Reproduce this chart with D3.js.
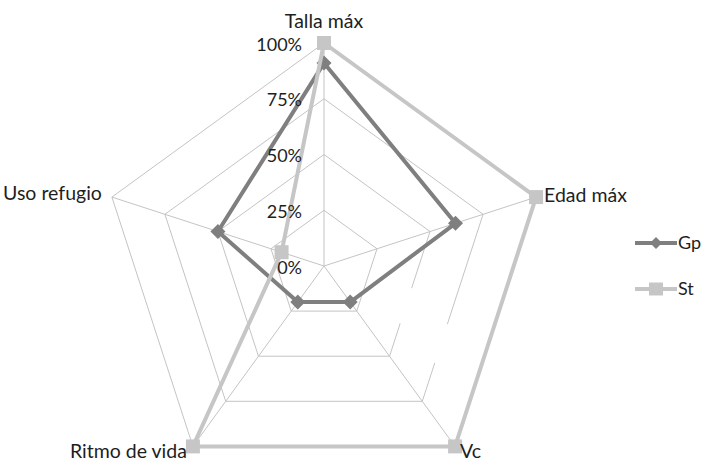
<!DOCTYPE html>
<html>
<head>
<meta charset="utf-8">
<script src="https://cdn.jsdelivr.net/npm/d3@7"></script>
<style>
  html, body { margin: 0; padding: 0; background: #fff; }
  svg { display: block; font-family: Lato, "Noto Sans", sans-serif; }
</style>
</head>
<body>
<svg id="chart" width="706" height="461"></svg>
<script>
// Radar chart: Gp vs St across five traits
const axes = ["Talla máx", "Edad máx", "Vc", "Ritmo de vida", "Uso refugio"];
const gpValues = [0.91, 0.62, 0.20, 0.20, 0.50];
const stValues = [1.00, 1.00, 1.00, 1.00, 0.20];
const tickValues = [0, 0.25, 0.5, 0.75, 1];
const tickLabels = ["0%", "25%", "50%", "75%", "100%"];
const seriesNames = ["Gp", "St"];
const seriesColors = ["#7f7f7f", "#c6c6c6"];

const svg = d3.select("#chart");
const cx = 324, cy = 266, R = 223;
const r = d3.scaleLinear().domain([0, 1]).range([0, R]);
const angle = i => i * 2 * Math.PI / axes.length;   // 0 = straight up, clockwise

const pt = (v, i) => [cx + r(v) * Math.sin(angle(i)), cy - r(v) * Math.cos(angle(i))];

const g = svg.append("g");

// grid rings
const ring = d3.lineRadial()
  .angle((d, i) => angle(i))
  .radius(d => r(d))
  .curve(d3.curveLinearClosed);

const grid = g.append("g").attr("transform", `translate(${cx},${cy})`);
tickValues.filter(t => t > 0).forEach(t => {
  grid.append("path")
    .attr("d", ring(axes.map(() => t)))
    .attr("fill", "none")
    .attr("stroke", "#c4c4c4")
    .attr("stroke-width", 1);
});
// spokes
axes.forEach((a, i) => {
  const [x, y] = pt(1, i);
  g.append("line")
    .attr("x1", cx).attr("y1", cy).attr("x2", x).attr("y2", y)
    .attr("stroke", "#c4c4c4").attr("stroke-width", 1);
});

// blank band across the Edad máx – Vc sector of the grid
const edgePoint = (level, i, t) => {
  const a = pt(level, i), b = pt(level, (i + 1) % axes.length);
  return [a[0] + (b[0] - a[0]) * t, a[1] + (b[1] - a[1]) * t];
};
const extend = (p, q, k) => [p[0] + (p[0] - q[0]) * k, p[1] + (p[1] - q[1]) * k];
const b1 = edgePoint(0.5, 1, 0.454), b2 = edgePoint(0.75, 1, 0.587);
const b3 = edgePoint(0.75, 1, 0.795), b4 = edgePoint(0.5, 1, 0.735);
const band = [extend(b1, b2, 0.15), extend(b2, b1, 0.15), extend(b3, b4, 0.15), extend(b4, b3, 0.15)];
g.append("polygon")
  .attr("points", band.map(p => p.join(",")).join(" "))
  .attr("fill", "#fff");

// series
const seriesData = [gpValues, stValues];
const lineGen = d3.line().curve(d3.curveLinearClosed);
seriesData.forEach((vals, s) => {
  const pts = vals.map((v, i) => pt(v, i));
  g.append("path")
    .attr("d", lineGen(pts))
    .attr("fill", "none")
    .attr("stroke", seriesColors[s])
    .attr("stroke-width", 4)
    .attr("stroke-linejoin", "round");
  const size = s === 0 ? 15 : 14;
  g.selectAll(null).data(pts).join("path")
    .attr("transform", d => `translate(${d[0]},${d[1]})`)
    .attr("d", s === 0
      ? `M0,${-size / 2}L${size / 2},0L0,${size / 2}L${-size / 2},0Z`
      : `M${-size / 2},${-size / 2}h${size}v${size}h${-size}Z`)
    .attr("fill", seriesColors[s]);
});

// value ticks along the first axis
tickValues.forEach((t, k) => {
  const [, y] = pt(t, 0);
  g.append("text")
    .attr("x", cx - 22)
    .attr("y", y + 7.5)
    .attr("text-anchor", "end")
    .attr("font-size", 18)
    .attr("fill", "#1e1e1e")
    .text(tickLabels[k]);
});

// axis labels
const labelPlacement = [
  { dx: 0, dy: -15, anchor: "middle" },
  { dx: 8, dy: 5, anchor: "start" },
  { dx: 5, dy: 12, anchor: "start" },
  { dx: -6, dy: 12, anchor: "end" },
  { dx: -10, dy: 3, anchor: "end" }
];
axes.forEach((a, i) => {
  const [x, y] = pt(1, i);
  const p = labelPlacement[i];
  g.append("text")
    .attr("x", x + p.dx).attr("y", y + p.dy)
    .attr("text-anchor", p.anchor)
    .attr("font-size", 19.5)
    .attr("fill", "#1e1e1e")
    .text(a);
});

// legend
const legend = svg.append("g").attr("transform", "translate(635,243)");
seriesNames.forEach((name, s) => {
  const row = legend.append("g").attr("transform", `translate(0,${s * 46})`);
  row.append("line").attr("x1", 0).attr("x2", 42).attr("y1", 0).attr("y2", 0)
    .attr("stroke", seriesColors[s]).attr("stroke-width", 4);
  row.append("path")
    .attr("transform", "translate(21,0)")
    .attr("d", s === 0 ? "M0,-6L6,0L0,6L-6,0Z" : "M-7,-6.5h14v13h-14Z")
    .attr("fill", seriesColors[s]);
  row.append("text").attr("x", 43).attr("y", 6)
    .attr("font-size", 18).attr("fill", "#1e1e1e").text(name);
});
</script>
</body>
</html>
